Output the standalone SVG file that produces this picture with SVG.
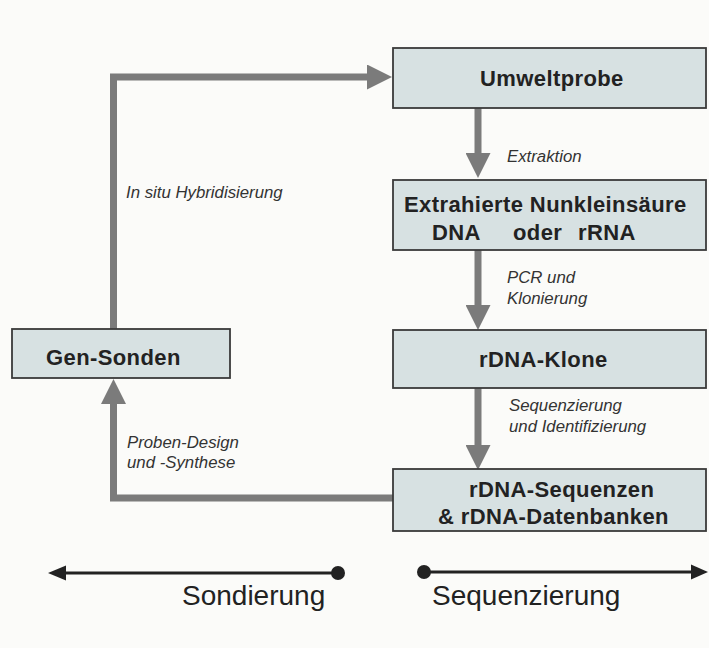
<svg xmlns="http://www.w3.org/2000/svg" width="709" height="648" viewBox="0 0 709 648">
<defs>
<style>
.box{fill:#d7e1e2;stroke:#3a3a3a;stroke-width:1.8}
.lbl{font-family:"Liberation Sans",Arial,sans-serif;font-weight:bold;font-size:22px;letter-spacing:0.4px;fill:#222}
.it{font-family:"Liberation Sans",Arial,sans-serif;font-style:italic;font-size:16.8px;fill:#333}
.big{font-family:"Liberation Sans",Arial,sans-serif;font-size:28px;fill:#222}
.flow{fill:none;stroke:#7b7b7b;stroke-width:7;stroke-linejoin:miter}
.axis{fill:none;stroke:#222;stroke-width:3}
</style>
<marker id="ah" viewBox="0 0 25 25" refX="0" refY="12.5" markerWidth="25" markerHeight="25" markerUnits="userSpaceOnUse" orient="auto">
<path d="M0 0 L25 12.5 L0 25 Z" fill="#7b7b7b"/>
</marker>
</defs>
<rect width="709" height="648" fill="#fbfbf9"/>

<g id="connectors">
<path class="flow" d="M478 108 V153" marker-end="url(#ah)"/>
<path class="flow" d="M478 250 V305" marker-end="url(#ah)"/>
<path class="flow" d="M478 388 V445" marker-end="url(#ah)"/>
<path class="flow" d="M113.5 329 V77 H367" marker-end="url(#ah)"/>
<path class="flow" d="M393 498 H113.5 V404" marker-end="url(#ah)"/>
<text class="it" x="507" y="162">Extraktion</text>
<text class="it" x="507" y="283">PCR und</text>
<text class="it" x="507" y="304">Klonierung</text>
<text class="it" x="509" y="411">Sequenzierung</text>
<text class="it" x="509" y="432">und Identifizierung</text>
<text class="it" x="126" y="198">In situ Hybridisierung</text>
<text class="it" x="127" y="448">Proben-Design</text>
<text class="it" x="127" y="468">und -Synthese</text>
</g>

<g id="umweltprobe">
<rect class="box" x="393" y="48" width="313" height="60"/>
<text class="lbl" x="480" y="86">Umweltprobe</text>
</g>
<g id="nukleinsaeure">
<rect class="box" x="393" y="180" width="313" height="70"/>
<text class="lbl" x="404" y="212">Extrahierte Nunkleinsäure</text>
<text class="lbl" y="240"><tspan x="432">DNA</tspan><tspan x="513">oder</tspan><tspan x="578">rRNA</tspan></text>
</g>
<g id="klone">
<rect class="box" x="393" y="330" width="313" height="58"/>
<text class="lbl" x="479" y="367">rDNA-Klone</text>
</g>
<g id="sequenzen">
<rect class="box" x="393" y="469" width="313" height="62"/>
<text class="lbl" x="469" y="497">rDNA-Sequenzen</text>
<text class="lbl" x="438" y="524">&amp; rDNA-Datenbanken</text>
</g>
<g id="gensonden">
<rect class="box" x="12" y="329" width="218" height="49"/>
<text class="lbl" x="46" y="365">Gen-Sonden</text>
</g>

<g id="sondierung">
<path class="axis" d="M62 573 H338"/>
<path d="M48 573 L66 565.5 L66 580.5 Z" fill="#222"/>
<circle cx="338" cy="573" r="7" fill="#222"/>
<text class="big" x="182" y="605">Sondierung</text>
</g>
<g id="sequenzierung">
<circle cx="424" cy="572" r="7" fill="#222"/>
<path class="axis" d="M424 572 H695"/>
<path d="M708 572 L691 564.5 L691 579.5 Z" fill="#222"/>
<text class="big" x="432" y="605">Sequenzierung</text>
</g>
</svg>
